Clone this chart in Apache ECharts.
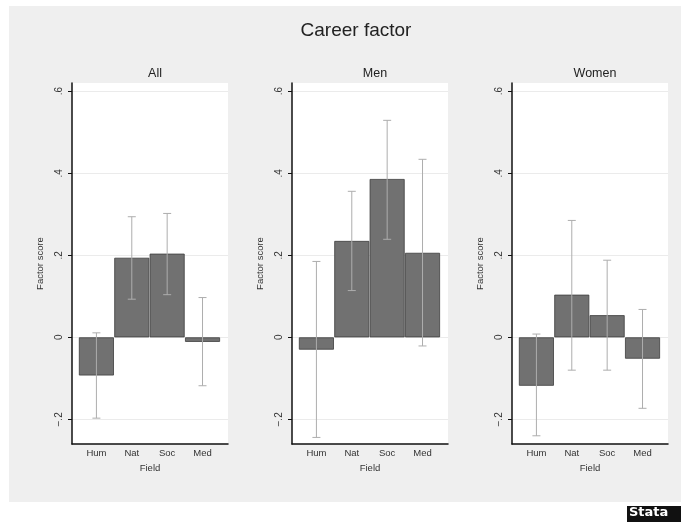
<!DOCTYPE html>
<html><head><meta charset="utf-8">
<script src="https://cdn.jsdelivr.net/npm/echarts@6/dist/echarts.min.js"></script>
<style>html,body{margin:0;padding:0;background:#fff}#c{width:681px;height:523px}</style>
</head><body><div id="c"></div>
<script>
const fields = ['Hum', 'Nat', 'Soc', 'Med'];
const panels = ['All', 'Men', 'Women'];
const allMean = [-0.093, 0.194, 0.204, -0.011];
const allLo = [-0.197, 0.093, 0.104, -0.118];
const allHi = [0.011, 0.294, 0.302, 0.097];
const menMean = [-0.030, 0.235, 0.386, 0.206];
const menLo = [-0.244, 0.114, 0.239, -0.021];
const menHi = [0.185, 0.356, 0.529, 0.434];
const womenMean = [-0.118, 0.104, 0.054, -0.052];
const womenLo = [-0.240, -0.080, -0.080, -0.173];
const womenHi = [0.008, 0.285, 0.188, 0.068];
const yTicks = [-0.2, 0, 0.2, 0.4, 0.6];

const means = [allMean, menMean, womenMean];
const los = [allLo, menLo, womenLo];
const his = [allHi, menHi, womenHi];
const FONT = '"Liberation Sans", Arial, sans-serif';

function fmtY(v) {
  if (Math.abs(v) < 1e-9) return '0';
  const s = Math.abs(v).toFixed(1).replace(/^0/, '');
  return (v < 0 ? '\u2212' : '') + s;
}

const grids = [], xAxes = [], yAxes = [], series = [], titles = [];
titles.push({ text: 'Career factor', left: 351, top: 16, textAlign: 'center',
  textStyle: { fontFamily: FONT, fontSize: 19, fontWeight: 'normal', color: '#222' } });

panels.forEach((p, i) => {
  const left = 72 + 220 * i;
  grids.push({ left: left, top: 83, width: 156, height: 361, show: true,
    backgroundColor: '#ffffff', borderWidth: 0, containLabel: false });
  titles.push({ text: p, left: left + 78, top: 62, textAlign: 'center',
    textStyle: { fontFamily: FONT, fontSize: 12.5, fontWeight: 'normal', color: '#222' } });
  xAxes.push({ type: 'value', gridIndex: i, min: 0.31, max: 4.72,
    name: 'Field', nameLocation: 'middle', nameGap: 19,
    nameTextStyle: { fontFamily: FONT, fontSize: 9.5, color: '#333' },
    axisLine: { show: true, onZero: false, lineStyle: { color: '#111', width: 1.5 } },
    axisTick: { show: false, customValues: [1, 2, 3, 4] },
    splitLine: { show: false },
    axisLabel: { customValues: [1, 2, 3, 4], margin: 4, fontFamily: FONT, fontSize: 9.5, color: '#333',
      formatter: v => fields[Math.round(v) - 1] || '' } });
  yAxes.push({ type: 'value', gridIndex: i, min: -0.26, max: 0.62,
    name: 'Factor score', nameLocation: 'middle', nameGap: 27,
    nameTextStyle: { fontFamily: FONT, fontSize: 9.5, color: '#333' },
    axisLine: { show: true, onZero: false, lineStyle: { color: '#111', width: 1.5 } },
    axisTick: { show: true, customValues: yTicks, length: 4, inside: false, lineStyle: { color: '#111', width: 1 } },
    splitLine: { show: true, lineStyle: { color: '#ebebeb', width: 1 } },
    axisLabel: { customValues: yTicks, rotate: 90, margin: 8, fontFamily: FONT, fontSize: 10, color: '#333',
      formatter: fmtY } });
  series.push({ type: 'bar', xAxisIndex: i, yAxisIndex: i, barWidth: 35,
    data: means[i].map((m, k) => [k + 1, m]),
    itemStyle: { color: '#717171', borderColor: '#3c3c3c', borderWidth: 0.8 },
    silent: true, animation: false });
  series.push({ type: 'custom', xAxisIndex: i, yAxisIndex: i, z: 5,
    data: los[i].map((lo, k) => [k + 1, lo, his[i][k]]),
    renderItem: function (params, api) {
      const x = api.value(0);
      const a = api.coord([x, api.value(1)]);
      const b = api.coord([x, api.value(2)]);
      const w = 4;
      const st = { stroke: '#adadad', lineWidth: 1 };
      return { type: 'group', children: [
        { type: 'line', shape: { x1: a[0], y1: a[1], x2: b[0], y2: b[1] }, style: st },
        { type: 'line', shape: { x1: a[0] - w, y1: a[1], x2: a[0] + w, y2: a[1] }, style: st },
        { type: 'line', shape: { x1: b[0] - w, y1: b[1], x2: b[0] + w, y2: b[1] }, style: st }
      ] };
    }, silent: true, animation: false });
});

const chart = echarts.init(document.getElementById('c'));
chart.setOption({
  animation: false,
  backgroundColor: '#efefef',
  title: titles, grid: grids, xAxis: xAxes, yAxis: yAxes, series: series,
  graphic: [
    { type: 'rect', shape: { x: 0, y: 0, width: 681, height: 6 }, style: { fill: '#fff' }, silent: true },
    { type: 'rect', shape: { x: 0, y: 0, width: 9, height: 523 }, style: { fill: '#fff' }, silent: true },
    { type: 'rect', shape: { x: 0, y: 502, width: 681, height: 21 }, style: { fill: '#fff' }, silent: true },
    { type: 'rect', shape: { x: 627, y: 506, width: 54, height: 16 }, style: { fill: '#111' }, silent: true },
    { type: 'text', left: 629, top: 506, style: { text: 'Stata', fill: '#fff', font: 'bold 13px "DejaVu Sans", sans-serif' }, silent: true }
  ]
});
</script></body></html>
